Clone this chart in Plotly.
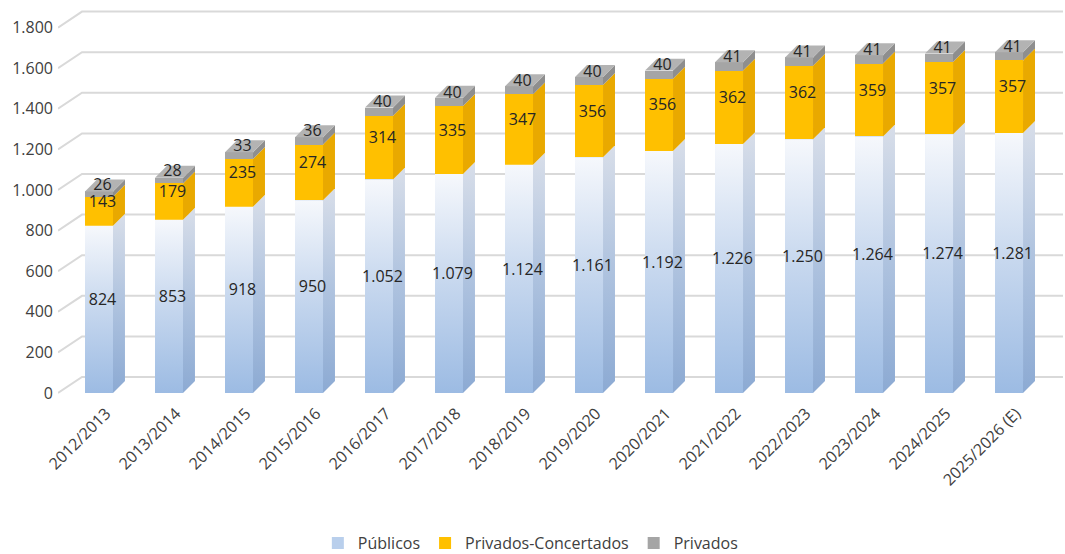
import plotly.graph_objects as go

# --- data -------------------------------------------------------------
cursos = ["2012/2013", "2013/2014", "2014/2015", "2015/2016", "2016/2017",
          "2017/2018", "2018/2019", "2019/2020", "2020/2021", "2021/2022",
          "2022/2023", "2023/2024", "2024/2025", "2025/2026 (E)"]
publicos = [824, 853, 918, 950, 1052, 1079, 1124, 1161, 1192, 1226, 1250, 1264, 1274, 1281]
concertados = [143, 179, 235, 274, 314, 335, 347, 356, 356, 362, 362, 359, 357, 357]
privados = [26, 28, 33, 36, 40, 40, 40, 40, 40, 41, 41, 41, 41, 41]
y_ticks = [0, 200, 400, 600, 800, 1000, 1200, 1400, 1600, 1800]

# --- pseudo-3D geometry (in axis units) --------------------------------
HALF_W = 0.2          # half width of the bar front face
DEPTH_X = 0.171       # bar depth, horizontal component
DEPTH_Y = 59.0        # bar depth, vertical component
WALL_X = 0.343        # distance from front floor edge to back wall
WALL_Y = 78.8
X_MIN, X_MAX = -0.5857, 13.771
Y_MIN, Y_MAX = -34.5, 1926.0

FONT = "Open Sans"
TXT = "#404040"


def fmt(v):
    return f"{v:,}".replace(",", ".")


idx = list(range(len(cursos)))
fig = go.Figure()

# front faces as stacked bars
series = [
    ("Públicos", publicos, "#b9cfec"),
    ("Privados-Concertados", concertados, "#ffc000"),
    ("Privados", privados, "#a5a5a5"),
]
for name, vals, col in series:
    fig.add_trace(go.Bar(x=idx, y=vals, width=2 * HALF_W, name=name,
                         marker=dict(color=col, line=dict(width=0)),
                         hoverinfo="skip"))

SIDE_CONC = "#e9a900"
SIDE_PRIV = "#8e8e8e"
TOP_PRIV = "#b3b3b3"


def poly(xs, ys, **kw):
    fig.add_trace(go.Scatter(x=xs + [xs[0]], y=ys + [ys[0]], mode="lines",
                             fill="toself", line=dict(width=0),
                             showlegend=False, hoverinfo="skip", **kw))


for i in idx:
    b0 = 0
    b1 = publicos[i]
    b2 = b1 + concertados[i]
    b3 = b2 + privados[i]
    xl, xr = i - HALF_W, i + HALF_W

    # gradient front face of the public segment
    poly([xl, xr, xr, xl], [b0, b0, b1, b1],
         fillgradient=dict(type="vertical",
                           colorscale=[[0, "#9cbbe3"], [0.5, "#c6d7ee"], [1, "#f6f8fc"]]))
    # side faces
    poly([xr, xr + DEPTH_X, xr + DEPTH_X, xr],
         [b0, b0 + DEPTH_Y, b1 + DEPTH_Y, b1],
         fillgradient=dict(type="vertical",
                           colorscale=[[0, "#8caad3"], [0.5, "#afc3df"], [1, "#d8dee9"]]))
    poly([xr, xr + DEPTH_X, xr + DEPTH_X, xr],
         [b1, b1 + DEPTH_Y, b2 + DEPTH_Y, b2], fillcolor=SIDE_CONC)
    poly([xr, xr + DEPTH_X, xr + DEPTH_X, xr],
         [b2, b2 + DEPTH_Y, b3 + DEPTH_Y, b3], fillcolor=SIDE_PRIV)
    # top face
    poly([xl, xr, xr + DEPTH_X, xl + DEPTH_X],
         [b3, b3, b3 + DEPTH_Y, b3 + DEPTH_Y], fillcolor=TOP_PRIV)

# value labels, centred on each block
lift = 0.7 * DEPTH_Y
bases = [0] * len(idx)
for name, vals, _ in series:
    xs, ys, ts = [], [], []
    for i in idx:
        xs.append(i + 0.05)
        ys.append(bases[i] + vals[i] / 2 + lift)
        ts.append(fmt(vals[i]))
        bases[i] += vals[i]
    fig.add_trace(go.Scatter(x=xs, y=ys, text=ts, mode="text",
                             textfont=dict(family=FONT, size=16, color="#262626"),
                             showlegend=False, hoverinfo="skip", cliponaxis=False))

# back-wall gridlines with their diagonal returns to the front edge
shapes = []
for v in y_ticks:
    shapes.append(dict(type="path", xref="x", yref="y", layer="below",
                       path=f"M {X_MIN},{v} L {X_MIN + WALL_X},{v + WALL_Y} L {X_MAX},{v + WALL_Y}",
                       line=dict(color="#d9d9d9", width=2)))

fig.update_layout(
    width=1065, height=554,
    margin=dict(l=58, r=2, t=2, b=154, autoexpand=False),
    paper_bgcolor="white", plot_bgcolor="white",
    barmode="stack",
    shapes=shapes,
    font=dict(family=FONT, color=TXT),
    xaxis=dict(range=[X_MIN, X_MAX], showgrid=False, zeroline=False, showline=False,
               tickvals=[i + 0.1 for i in idx], ticktext=cursos, tickangle=-45,
               tickfont=dict(size=16, color=TXT), ticks="", automargin=False),
    yaxis=dict(range=[Y_MIN, Y_MAX], showgrid=False, zeroline=False, showline=False,
               tickvals=y_ticks, ticktext=[fmt(v) for v in y_ticks],
               tickfont=dict(size=16, color=TXT), ticks="", ticklabelstandoff=4,
               automargin=False),
    legend=dict(orientation="h", x=0.47, xanchor="center",
                yref="container", y=(554 - 543) / 554, yanchor="middle",
                font=dict(size=16, color=TXT), itemwidth=30, traceorder="normal"),
)

fig.write_html("out.html")
